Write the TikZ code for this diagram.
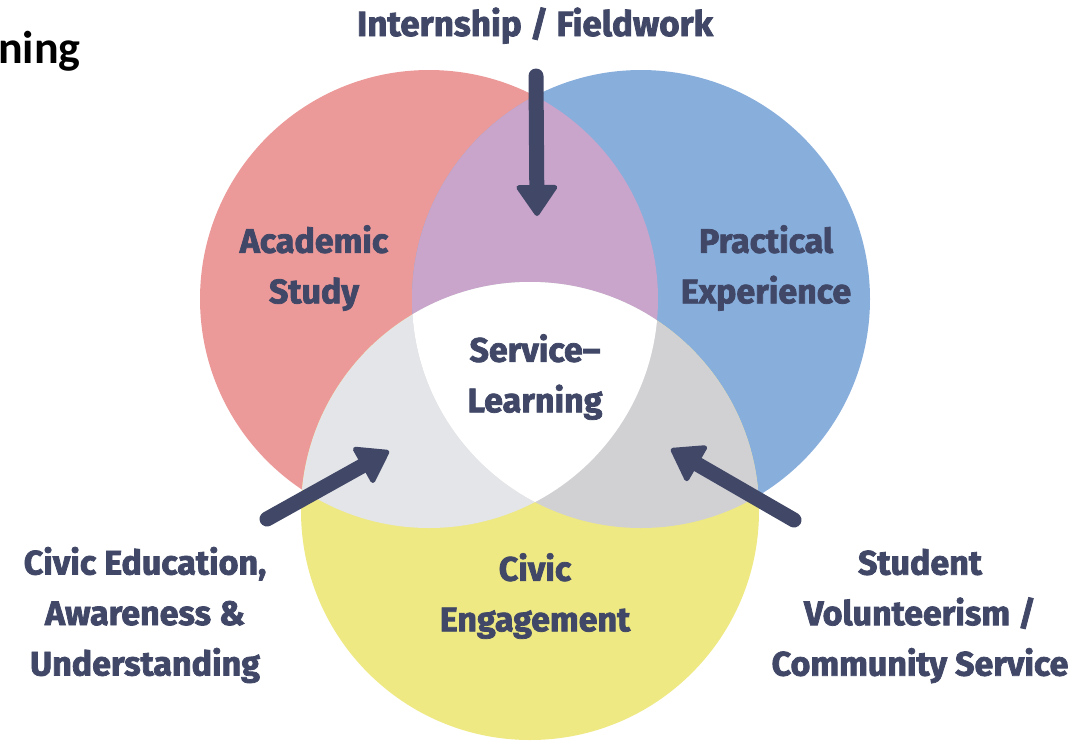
\documentclass[tikz,border=0pt]{standalone}
\usepackage{fontspec}
\setmainfont{Fira Sans}[BoldFeatures={FakeBold=2.2}]
\newfontfamily\titlefont{Carlito}
\usetikzlibrary{arrows.meta}
\definecolor{cred}{HTML}{EC9A99}
\definecolor{cblue}{HTML}{88AEDC}
\definecolor{cyellow}{HTML}{EEE983}
\definecolor{cpurple}{HTML}{C9A4CB}
\definecolor{clgray}{HTML}{E3E5E8}
\definecolor{cgray}{HTML}{D1D1D4}
\definecolor{ink}{HTML}{414867}
\begin{document}
\begin{tikzpicture}[x=1pt,y=-1pt,
  lbl/.style={text=ink, font=\fontsize{34}{50.5}\selectfont\bfseries, align=center, inner sep=0pt},
  toplbl/.style={text=ink, font=\fontsize{35}{40}\selectfont\bfseries, inner sep=0pt},
  arr/.style={draw=ink, line width=15pt, line cap=round,
    -{Triangle[length=33pt,width=44pt,line width=5pt,round]}}]
\useasboundingbox[fill=white] (0,0) rectangle (1090,740);
% circle centres
\coordinate (cR) at (429,299);
\coordinate (cB) at (641,299);
\coordinate (cY) at (530,511);
% base discs
\fill[cred] (cR) circle[radius=229pt];
\fill[cblue] (cB) circle[radius=229pt];
\fill[cyellow] (cY) circle[radius=229pt];
% pairwise overlaps
\begin{scope}
  \clip (cR) circle[radius=229pt];
  \fill[cpurple] (cB) circle[radius=229pt];
  \fill[clgray] (cY) circle[radius=229pt];
\end{scope}
\begin{scope}
  \clip (cB) circle[radius=229pt];
  \fill[cgray] (cY) circle[radius=229pt];
\end{scope}
% triple overlap
\begin{scope}
  \clip (cR) circle[radius=229pt];
  \clip (cB) circle[radius=229pt];
  \fill[white] (cY) circle[radius=229pt];
\end{scope}
% title fragment
\node[anchor=base west, inner sep=0pt, font=\titlefont\fontsize{46}{50}\selectfont\bfseries] (title) at (-2,63) {ning};
% labels
\node[toplbl, anchor=base] (intern) at (535,36) {Internship / Fieldwork};
\node[lbl] (acad) at (314,268) {Academic\\Study};
\node[lbl] (prac) at (766,268) {Practical\\Experience};
\node[lbl] (sl) at (535,377) {Service--\\Learning};
\node[lbl] (civic) at (535,596) {Civic\\Engagement};
\node[lbl] (edu) at (145,615) {Civic Education,\\Awareness \&\\Understanding};
\node[lbl] (vol) at (920,616) {Student\\Volunteerism /\\Community Service};
% arrows
\coordinate (t1) at (536,76);
\coordinate (h1) at (537,216);
\coordinate (t2) at (267,519);
\coordinate (h2) at (389,451);
\coordinate (t3) at (794,520);
\coordinate (h3) at (671,449);
\draw[arr] (t1) -- (h1);
\draw[arr] (t2) -- (h2);
\draw[arr] (t3) -- (h3);
\end{tikzpicture}
\end{document}
